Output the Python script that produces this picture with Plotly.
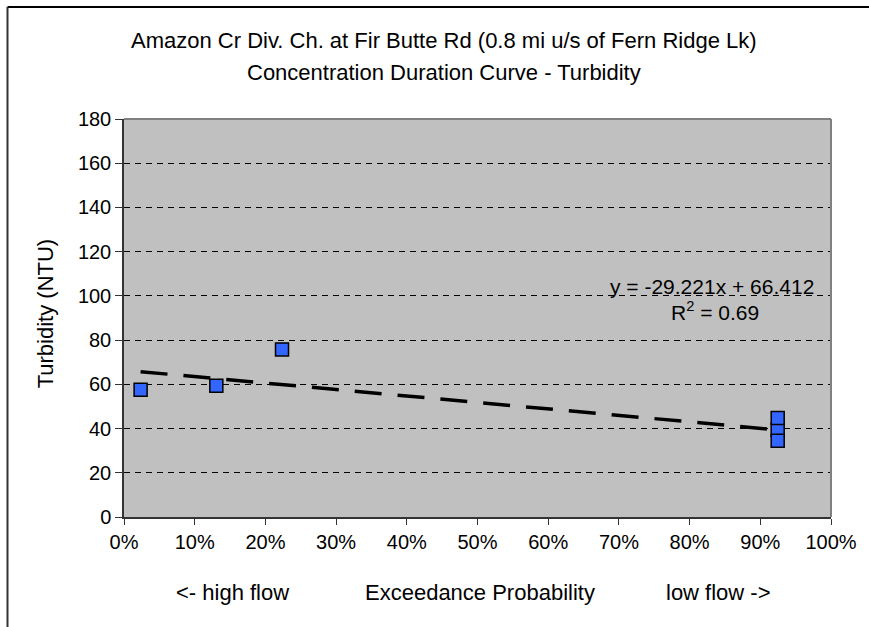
import plotly.graph_objects as go

# exceedance probability (fraction) and turbidity (NTU)
exceed = [0.0235, 0.1306, 0.2235, 0.9246, 0.9246, 0.9246]
turbidity = [57.6, 59.4, 75.8, 39.5, 44.8, 34.5]

# Excel linear trendline as printed on the chart
slope = -29.221
intercept = 66.412
r2 = 0.69

x_ticks = [0, 0.1, 0.2, 0.3, 0.4, 0.5, 0.6, 0.7, 0.8, 0.9, 1.0]
y_ticks = [0, 20, 40, 60, 80, 100, 120, 140, 160, 180]

W, H = 869, 627
L, R, T, B = 124, 35, 119, 110
FONT = "Liberation Sans, Arial, sans-serif"


def px(x, y):
    # pixel position -> paper coordinates of the plot area
    return (x - L) / (W - L - R), (H - B - y) / (H - T - B)


trend_x = [min(exceed), max(exceed)]
trend_y = [intercept + slope * v for v in trend_x]

fig = go.Figure()

fig.add_trace(go.Scatter(
    x=exceed, y=turbidity, mode="markers",
    marker=dict(symbol="square", size=13, color="#3366FF",
                line=dict(color="black", width=1.5)),
    showlegend=False))

# trendline sits on top of the markers, as in Excel
fig.add_trace(go.Scatter(
    x=trend_x, y=trend_y, mode="lines",
    line=dict(color="black", width=3.5, dash="27px,16px"),
    hoverinfo="skip", showlegend=False))

fig.update_xaxes(
    range=[0, 1], tickvals=x_ticks, tickformat=".0%",
    showgrid=False, zeroline=False,
    showline=True, linecolor="#333333", linewidth=1.5,
    ticks="outside", ticklen=6, tickcolor="#333333",
    tickfont=dict(family=FONT, size=20, color="black"))

fig.update_yaxes(
    range=[0, 180], tickvals=y_ticks,
    showgrid=True, gridcolor="black", gridwidth=1, griddash="6px,5px",
    zeroline=False,
    showline=True, linecolor="#333333", linewidth=1.5,
    ticks="outside", ticklen=7, tickcolor="#333333",
    tickfont=dict(family=FONT, size=20, color="black"))

# plot-area border on top and right, and the outer chart frame
fx0, fy0 = px(7, 7)
fx1, fy1 = px(W + 5, H + 5)
fig.update_layout(shapes=[
    dict(type="line", xref="paper", yref="paper", x0=0, x1=1, y0=1, y1=1,
         line=dict(color="#808080", width=2), layer="above"),
    dict(type="line", xref="paper", yref="paper", x0=1, x1=1, y0=0, y1=1,
         line=dict(color="#808080", width=2), layer="above"),
    dict(type="line", xref="paper", yref="paper", x0=fx0, x1=fx1, y0=fy0, y1=fy0,
         line=dict(color="black", width=2)),
    dict(type="line", xref="paper", yref="paper", x0=fx0, x1=fx0, y0=fy0, y1=fy1,
         line=dict(color="#333333", width=2)),
])

ann = []
tx, ty1 = px(445, 41)
_, ty2 = px(445, 72)
ann.append(dict(text="Amazon Cr Div. Ch. at Fir Butte Rd (0.8 mi u/s of Fern Ridge Lk)",
                x=tx, y=ty1, font=dict(size=22)))
ann.append(dict(text="Concentration Duration Curve - Turbidity",
                x=tx, y=ty2, font=dict(size=22)))

yx, yy = px(45, 313)
ann.append(dict(text="Turbidity (NTU)", x=yx, y=yy, textangle=-90,
                font=dict(size=22)))

for label, cx in [("<- high flow", 233), ("Exceedance Probability", 482),
                  ("low flow ->", 721)]:
    ax_, ay_ = px(cx, 592)
    ann.append(dict(text=label, x=ax_, y=ay_, font=dict(size=22)))

ex, ey = px(714, 286)
rx, ry = px(718, 311)
ann.append(dict(text="y = -29.221x + 66.412", x=ex, y=ey, font=dict(size=21)))
ann.append(dict(text=f"R<sup>2</sup> = {r2}", x=rx, y=ry, font=dict(size=21)))

for a in ann:
    a.update(xref="paper", yref="paper", xanchor="center", yanchor="middle",
             showarrow=False)
    a["font"].update(family=FONT, color="black")

fig.update_layout(
    annotations=ann,
    width=W, height=H,
    margin=dict(l=L, r=R, t=T, b=B),
    plot_bgcolor="#C0C0C0", paper_bgcolor="white",
    showlegend=False)

fig.write_html("out.html", config={"displayModeBar": False},
               post_script="document.body.style.margin='0';")
